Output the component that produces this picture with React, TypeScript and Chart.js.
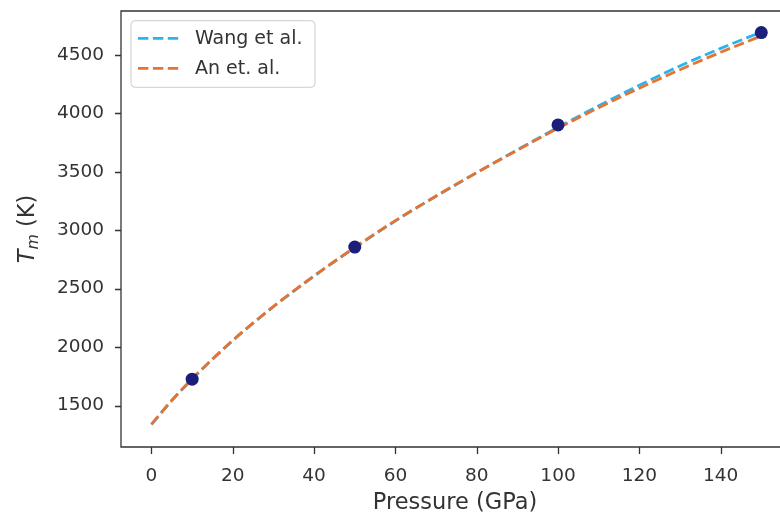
import React, { useEffect, useRef } from 'react';
import { Chart, registerables } from 'chart.js';

Chart.register(...registerables);

// ---- data ----
const pressure = [0, 5, 10, 15, 20, 25, 30, 40, 50, 60, 70, 80, 90, 100, 110, 120, 130, 140, 150];
const wangTm = [1337, 1542, 1725, 1895, 2055, 2204, 2345, 2607, 2850, 3079, 3290, 3492, 3688, 3880, 4064, 4240, 4405, 4555, 4695];
const anTm = [1340, 1545, 1728, 1898, 2058, 2207, 2348, 2610, 2853, 3082, 3292, 3492, 3684, 3872, 4048, 4215, 4373, 4522, 4662];
const expPressure = [10, 50, 100, 150];
const expTm = [1725, 2855, 3900, 4690];
const xTicks = [0, 20, 40, 60, 80, 100, 120, 140];
const yTicks = [1500, 2000, 2500, 3000, 3500, 4000, 4500];
const xRange = [-7.5, 154.6]; // visible part of the x axis (right edge is cropped in the reference)
const yRange = [1145, 4875];
const seriesNames = ['Wang et al.', 'An et. al.'];
const xTitle = 'Pressure (GPa)';
const yTitleMain = 'T';
const yTitleSub = 'm';
const yTitleUnit = ' (K)';

const COLORS = { wang: '#2ab4ee', an: '#e8722f', exp: '#1b1f7a', axis: '#333333' };
const FONT = 'DejaVu Sans';
const DASH = [10.4, 4.5];

const decorPlugin = {
  id: 'decor',
  afterDraw(chart: any) {
    const { ctx } = chart;
    const xs = chart.scales.x;
    const ys = chart.scales.y;
    const left = xs.left, top = ys.top, bottom = ys.bottom;
    const W = chart.width;
    ctx.save();
    // spines (right spine lies beyond the visible area)
    ctx.strokeStyle = COLORS.axis;
    ctx.lineWidth = 1.3;
    ctx.setLineDash([]);
    ctx.beginPath();
    ctx.moveTo(W + 5, top);
    ctx.lineTo(left, top);
    ctx.lineTo(left, bottom);
    ctx.lineTo(W + 5, bottom);
    ctx.stroke();

    // tick marks
    ctx.beginPath();
    xTicks.forEach((v) => {
      const px = Math.round(xs.getPixelForValue(v)) + 0.5;
      ctx.moveTo(px, bottom);
      ctx.lineTo(px, bottom + 7);
    });
    yTicks.forEach((v) => {
      const py = Math.round(ys.getPixelForValue(v)) + 0.5;
      ctx.moveTo(left, py);
      ctx.lineTo(left - 6, py);
    });
    ctx.stroke();

    // legend
    const lx = 131, ly = 20.7, lw = 184, lh = 66.6, r = 4;
    ctx.beginPath();
    ctx.moveTo(lx + r, ly);
    ctx.lineTo(lx + lw - r, ly);
    ctx.quadraticCurveTo(lx + lw, ly, lx + lw, ly + r);
    ctx.lineTo(lx + lw, ly + lh - r);
    ctx.quadraticCurveTo(lx + lw, ly + lh, lx + lw - r, ly + lh);
    ctx.lineTo(lx + r, ly + lh);
    ctx.quadraticCurveTo(lx, ly + lh, lx, ly + lh - r);
    ctx.lineTo(lx, ly + r);
    ctx.quadraticCurveTo(lx, ly, lx + r, ly);
    ctx.closePath();
    ctx.fillStyle = 'rgba(255,255,255,0.8)';
    ctx.fill();
    ctx.strokeStyle = '#cccccc';
    ctx.lineWidth = 1;
    ctx.stroke();

    const rows = [
      { name: seriesNames[0], color: COLORS.wang, y: 38.3 },
      { name: seriesNames[1], color: COLORS.an, y: 68.3 },
    ];
    rows.forEach((row) => {
      ctx.beginPath();
      ctx.setLineDash(DASH);
      ctx.strokeStyle = row.color;
      ctx.lineWidth = 2.8;
      ctx.moveTo(138, row.y);
      ctx.lineTo(179, row.y);
      ctx.stroke();
      ctx.setLineDash([]);
      ctx.fillStyle = COLORS.axis;
      ctx.font = `19px "${FONT}"`;
      ctx.textAlign = 'left';
      ctx.textBaseline = 'middle';
      ctx.fillText(row.name, 195, row.y + 1);
    });

    // x title (centred on the full, partly cropped axes box)
    ctx.fillStyle = COLORS.axis;
    ctx.font = `22.5px "${FONT}"`;
    ctx.textAlign = 'center';
    ctx.textBaseline = 'alphabetic';
    ctx.fillText(xTitle, 455, 509);

    // y title (rotated, with subscript)
    const big = 22.5, small = 15.75;
    ctx.font = `italic ${big}px "${FONT}"`;
    const wT = ctx.measureText(yTitleMain).width;
    ctx.font = `italic ${small}px "${FONT}"`;
    const wM = ctx.measureText(yTitleSub).width;
    ctx.font = `${big}px "${FONT}"`;
    const wU = ctx.measureText(yTitleUnit).width;
    const total = wT + wM + wU;
    ctx.translate(34, (top + bottom) / 2);
    ctx.rotate(-Math.PI / 2);
    ctx.textAlign = 'left';
    ctx.textBaseline = 'alphabetic';
    let x = -total / 2;
    ctx.font = `italic ${big}px "${FONT}"`;
    ctx.fillText(yTitleMain, x, 0);
    x += wT;
    ctx.font = `italic ${small}px "${FONT}"`;
    ctx.fillText(yTitleSub, x, 4);
    x += wM;
    ctx.font = `${big}px "${FONT}"`;
    ctx.fillText(yTitleUnit, x, 0);
    ctx.restore();
  },
};

export default function App() {
  const ref = useRef<HTMLCanvasElement | null>(null);

  useEffect(() => {
    if (!ref.current) return;
    const chart = new Chart(ref.current, {
      type: 'line',
      data: {
        datasets: [
          {
            type: 'scatter',
            label: 'data',
            data: expPressure.map((p, i) => ({ x: p, y: expTm[i] })),
            backgroundColor: COLORS.exp,
            borderColor: COLORS.exp,
            pointRadius: 6.5,
            borderWidth: 0,
            order: 0,
          } as any,
          {
            label: seriesNames[1],
            data: pressure.map((p, i) => ({ x: p, y: anTm[i] })),
            borderColor: COLORS.an,
            borderWidth: 2.8,
            borderDash: DASH,
            pointRadius: 0,
            fill: false,
            cubicInterpolationMode: 'monotone',
            order: 1,
          },
          {
            label: seriesNames[0],
            data: pressure.map((p, i) => ({ x: p, y: wangTm[i] })),
            borderColor: COLORS.wang,
            borderWidth: 2.8,
            borderDash: DASH,
            pointRadius: 0,
            fill: false,
            cubicInterpolationMode: 'monotone',
            order: 2,
          },
        ],
      },
      options: {
        animation: false,
        responsive: false,
        devicePixelRatio: 1,
        layout: { autoPadding: false, padding: { left: 0, top: 11, right: 0, bottom: 0 } },
        plugins: { legend: { display: false }, tooltip: { enabled: false } },
        scales: {
          x: {
            type: 'linear',
            min: xRange[0],
            max: xRange[1],
            afterBuildTicks: (s: any) => {
              s.ticks = xTicks.map((v) => ({ value: v }));
            },
            afterFit: (s: any) => {
              s.height = 65;
              s.paddingLeft = 0;
              s.paddingRight = 0;
            },
            ticks: {
              autoSkip: false,
              maxRotation: 0,
              padding: 18,
              color: COLORS.axis,
              font: { family: FONT, size: 18.5 },
              callback: (v: any) => String(v),
            },
            grid: { display: false, drawTicks: false },
            border: { display: false },
          },
          y: {
            type: 'linear',
            min: yRange[0],
            max: yRange[1],
            afterBuildTicks: (s: any) => {
              s.ticks = yTicks.map((v) => ({ value: v }));
            },
            afterFit: (s: any) => {
              s.width = 121;
              s.paddingTop = 0;
              s.paddingBottom = 0;
            },
            ticks: {
              autoSkip: false,
              padding: 17,
              color: COLORS.axis,
              font: { family: FONT, size: 18.5 },
              callback: (v: any) => String(v),
            },
            grid: { display: false, drawTicks: false },
            border: { display: false },
          },
        },
      },
      plugins: [decorPlugin],
    });
    return () => chart.destroy();
  }, []);

  return (
    <div style={{ position: 'fixed', left: 0, top: 0, width: 780, height: 512, overflow: 'hidden', background: '#fff' }}>
      <canvas ref={ref} width={780} height={512} style={{ display: 'block', width: 780, height: 512 }} />
    </div>
  );
}
